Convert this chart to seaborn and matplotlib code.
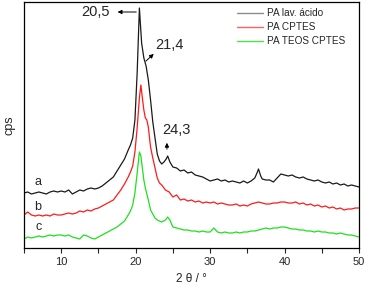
import pandas as pd
import numpy as np
import seaborn as sns
import matplotlib.pyplot as plt
from matplotlib.ticker import MultipleLocator

# curve a - PA lav. acido (black)
x_a = [5, 5.5, 6, 6.5, 7, 7.5, 8, 8.5, 9, 9.5, 10, 10.5, 11, 11.5, 12, 12.5, 13, 13.5, 14, 14.5,
       15, 15.5, 16, 16.5, 17, 17.5, 18, 18.5, 19, 19.3, 19.6, 19.9, 20.2, 20.5, 20.8, 21.1, 21.4,
       21.7, 22, 22.3, 22.6, 22.9, 23.2, 23.5, 23.8, 24.1, 24.3, 24.6, 25, 25.5, 26, 26.5, 27, 27.5,
       28, 28.5, 29, 29.5, 30, 30.5, 31, 31.5, 32, 32.5, 33, 33.5, 34, 34.5, 35, 35.5, 36, 36.3,
       36.5, 36.8, 37, 37.5, 38, 38.5, 39, 39.5, 40, 40.5, 41, 41.5, 42, 42.5, 43, 43.5, 44, 44.5,
       45, 45.5, 46, 46.5, 47, 47.5, 48, 48.5, 49, 49.5, 50]
y_a = [55, 56, 54, 55, 56, 55, 54, 56, 57, 56, 57, 56, 58, 54, 56, 58, 57, 59, 60, 59,
       60, 62, 65, 68, 71, 77, 83, 89, 98, 103, 110, 128, 175, 240, 205, 190, 182,
       168, 148, 126, 110, 94, 87, 84, 86, 89, 92, 86, 81, 80, 77, 78, 75, 76,
       73, 72, 71, 69, 67, 68, 69, 67, 68, 66, 67, 66, 65, 67, 65, 67, 70, 75,
       79, 72, 69, 68, 68, 66, 70, 74, 73, 72, 73, 71, 70, 71, 69, 68, 67, 68,
       66, 65, 66, 64, 65, 63, 64, 62, 63, 62, 61]

# curve b - PA CPTES (red)
x_b = [5, 5.5, 6, 6.5, 7, 7.5, 8, 8.5, 9, 9.5, 10, 10.5, 11, 11.5, 12, 12.5, 13, 13.5, 14, 14.5,
       15, 15.5, 16, 16.5, 17, 17.5, 18, 18.5, 19, 19.3, 19.6, 19.9, 20.2, 20.5, 20.7, 20.9, 21.1,
       21.3, 21.5, 21.7, 22, 22.3, 22.6, 22.9, 23.2, 23.5, 24, 24.5, 25, 25.5, 26, 26.5, 27, 27.5,
       28, 28.5, 29, 29.5, 30, 30.5, 31, 31.5, 32, 32.5, 33, 33.5, 34, 34.5, 35, 35.5, 36, 36.5,
       37, 37.5, 38, 38.5, 39, 39.5, 40, 40.5, 41, 41.5, 42, 42.5, 43, 43.5, 44, 44.5, 45, 45.5,
       46, 46.5, 47, 47.5, 48, 48.5, 49, 49.5, 50]
y_b = [33, 36, 33, 32, 33, 32, 33, 32, 34, 33, 33, 34, 35, 34, 35, 37, 36, 38, 37, 39,
       40, 42, 44, 46, 48, 53, 58, 64, 71, 76, 82, 96, 120, 150, 163, 150, 138,
       130, 128, 121, 101, 90, 80, 70, 65, 63, 58, 56, 51, 53, 48, 49, 47, 48,
       46, 47, 45, 46, 45, 46, 44, 45, 44, 43, 43, 44, 42, 43, 42, 44, 45, 46,
       45, 44, 44, 45, 45, 46, 46, 45, 45, 46, 44, 45, 43, 44, 42, 43, 41, 42,
       40, 41, 39, 40, 38, 39, 39, 40, 40]

# curve c - PA TEOS CPTES (green)
x_c = [5, 5.5, 6, 6.5, 7, 7.5, 8, 8.5, 9, 9.5, 10, 10.5, 11, 11.5, 12, 12.5, 13, 13.5, 14, 14.5,
       15, 15.5, 16, 16.5, 17, 17.5, 18, 18.5, 19, 19.3, 19.6, 19.9, 20.2, 20.5, 20.7, 20.9, 21.1,
       21.3, 21.5, 21.7, 22, 22.3, 22.6, 22.9, 23.2, 23.5, 24, 24.3, 24.6, 25, 25.5, 26, 26.5, 27,
       27.5, 28, 28.5, 29, 29.5, 30, 30.5, 31, 31.5, 32, 32.5, 33, 33.5, 34, 34.5, 35, 35.5, 36,
       36.5, 37, 37.5, 38, 38.5, 39, 39.5, 40, 40.5, 41, 41.5, 42, 42.5, 43, 43.5, 44, 44.5, 45,
       45.5, 46, 46.5, 47, 47.5, 48, 48.5, 49, 49.5, 50]
y_c = [9, 11, 10, 11, 12, 11, 12, 13, 12, 13, 13, 12, 13, 11, 10, 9, 13, 12, 10, 9,
       11, 13, 15, 17, 19, 21, 24, 27, 33, 37, 43, 55, 75, 96, 92, 80, 68,
       60, 54, 48, 38, 34, 30, 28, 27, 26, 28, 31, 28, 21, 20, 19, 18, 18,
       17, 17, 16, 17, 16, 16, 20, 16, 15, 16, 15, 15, 16, 15, 16, 16, 17, 17,
       18, 19, 20, 19, 20, 20, 21, 21, 20, 19, 19, 18, 18, 17, 17, 16, 17, 16,
       16, 15, 15, 14, 15, 14, 13, 13, 12, 11]

names = ["PA lav. ácido", "PA CPTES", "PA TEOS CPTES"]
colors = ["#1a1a1a", "#ff1a1a", "#1ee01e"]
legend_colors = ["#8c8c8c", "#ff6060", "#50e050"]

df = pd.concat([
    pd.DataFrame({"x": x_a, "y": y_a, "amostra": names[0]}),
    pd.DataFrame({"x": x_b, "y": y_b, "amostra": names[1]}),
    pd.DataFrame({"x": x_c, "y": y_c, "amostra": names[2]}),
])

sns.set_style("ticks")
plt.rcParams["font.family"] = ["Liberation Sans", "DejaVu Sans"]

fig = plt.figure(figsize=(3.7, 2.91), dpi=100)
ax = fig.add_axes([24 / 370, 43 / 291, 335 / 370, 246 / 291])

sns.lineplot(data=df, x="x", y="y", hue="amostra", palette=colors, estimator=None,
             linewidth=0.9, ax=ax, legend=False)

ax.set_xlim(5, 50)
ax.set_ylim(0, 246)
ax.set_yticks([])
ax.xaxis.set_major_locator(MultipleLocator(10))
ax.xaxis.set_minor_locator(MultipleLocator(5))
ax.tick_params(axis="x", which="both", direction="out", length=3.5, width=0.8, labelsize=8, pad=3)
for s in ax.spines.values():
    s.set_linewidth(0.9)
    s.set_color("black")
ax.set_xlabel("2 θ / °", fontsize=8.5, labelpad=4)
ax.set_ylabel("cps", fontsize=9, labelpad=6)

# legend
handles = [plt.Line2D([], [], color=c, lw=1.0) for c in legend_colors]
ax.legend(handles, names, loc="upper left", bbox_to_anchor=(0.636, 0.975), frameon=False,
          fontsize=7.2, handlelength=2.6, handletextpad=0.35, labelspacing=0.4,
          borderpad=0, borderaxespad=0)

# peak labels
ax.annotate("", xy=(17.2, 236), xytext=(20.45, 236),
            arrowprops=dict(arrowstyle="-|>", color="black", lw=0.7, mutation_scale=6))
ax.text(14.6, 236, "20,5", fontsize=10.5, ha="center", va="center")
ax.annotate("", xy=(22.7, 196), xytext=(21.1, 185),
            arrowprops=dict(arrowstyle="-|>", color="black", lw=0.7, mutation_scale=6))
ax.text(24.6, 203, "21,4", fontsize=10.5, ha="center", va="center")
ax.annotate("", xy=(24.2, 108), xytext=(24.2, 96),
            arrowprops=dict(arrowstyle="-|>", color="black", lw=0.7, mutation_scale=6))
ax.text(25.5, 118, "24,3", fontsize=10.5, ha="center", va="center")

ax.text(6.9, 66, "a", fontsize=9, ha="center", va="center")
ax.text(6.9, 41, "b", fontsize=9, ha="center", va="center")
ax.text(6.9, 21, "c", fontsize=9, ha="center", va="center")

fig.savefig("out.png", dpi=100)
